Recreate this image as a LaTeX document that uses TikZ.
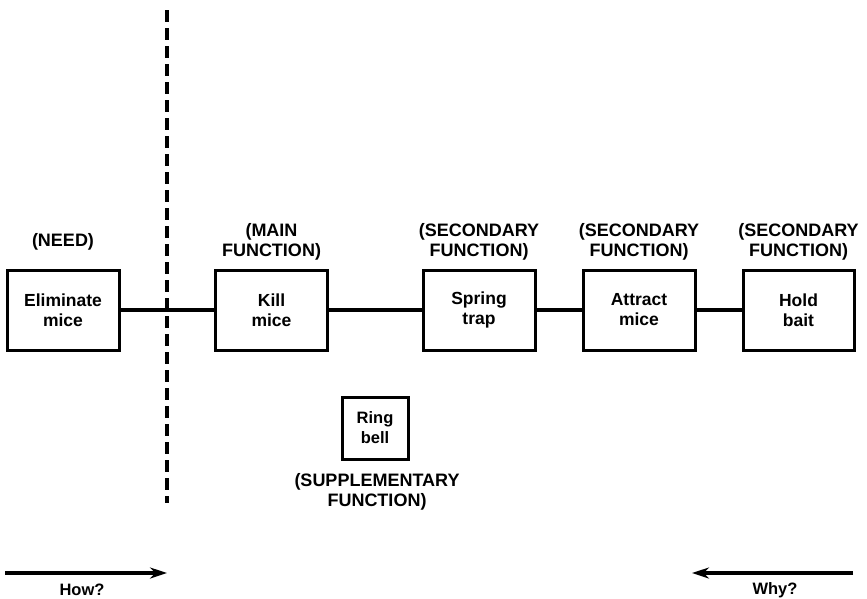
\documentclass[tikz,border=0pt]{standalone}
\usepackage{fontspec}
\setmainfont{Liberation Sans}
\usetikzlibrary{arrows.meta}
\begin{document}
\begin{tikzpicture}[x=1pt,y=-1pt,
  box/.style={draw, line width=3pt, minimum width=112pt, minimum height=80pt, align=center, inner sep=0pt,
    font=\bfseries\fontsize{17.5}{20}\selectfont},
  lbl/.style={align=center, inner sep=0pt, font=\bfseries\fontsize{18}{20}\selectfont},
  link/.style={line width=3.8pt},
  dir/.style={line width=3.8pt, -{Stealth[length=17pt,width=11pt]}},
  dirlbl/.style={inner sep=0pt, font=\bfseries\fontsize{16.5}{18}\selectfont}]
\useasboundingbox (0,0) rectangle (867,598);
% boxes
\node[box] (e) at (63,310) {Eliminate\\mice};
\node[box] (k) at (271.5,310) {Kill\\mice};
\node[box] (s) at (479,310) {Spring\\trap};
\node[box] (a) at (639,310) {Attract\\mice};
\node[box, minimum width=111pt] (h) at (798.5,310) {Hold\\bait};
\node[box, minimum width=66pt, minimum height=62pt, font=\bfseries\fontsize{16.5}{20}\selectfont] (r) at (375,428) {Ring\\bell};
% labels
\node[lbl] (le) at (63,242) {(NEED)};
\node[lbl] (lk) at (271.5,242) {(MAIN\\FUNCTION)};
\node[lbl] (ls) at (479,242) {(SECONDARY\\FUNCTION)};
\node[lbl] (la) at (639,242) {(SECONDARY\\FUNCTION)};
\node[lbl] (lh) at (798.5,242) {(SECONDARY\\FUNCTION)};
\node[lbl] (lr) at (377,492) {(SUPPLEMENTARY\\FUNCTION)};
% connectors
\draw[link] (e) -- (k);
\draw[link] (k) -- (s);
\draw[link] (s) -- (a);
\draw[link] (a) -- (h);
% dashed divider
\coordinate (dtop) at (167,10);
\coordinate (dbot) at (167,503);
\draw[line width=3.5pt, dash pattern=on 12pt off 6pt] (dtop) -- (dbot);
% how / why
\coordinate (hs) at (5,573);
\coordinate (he) at (167,573);
\coordinate (ws) at (853,573);
\coordinate (we) at (692,573);
\draw[dir] (hs) -- (he);
\draw[dir] (ws) -- (we);
\node[dirlbl] (how) at (82,590) {How?};
\node[dirlbl] (why) at (775,590) {Why?};
\end{tikzpicture}
\end{document}
